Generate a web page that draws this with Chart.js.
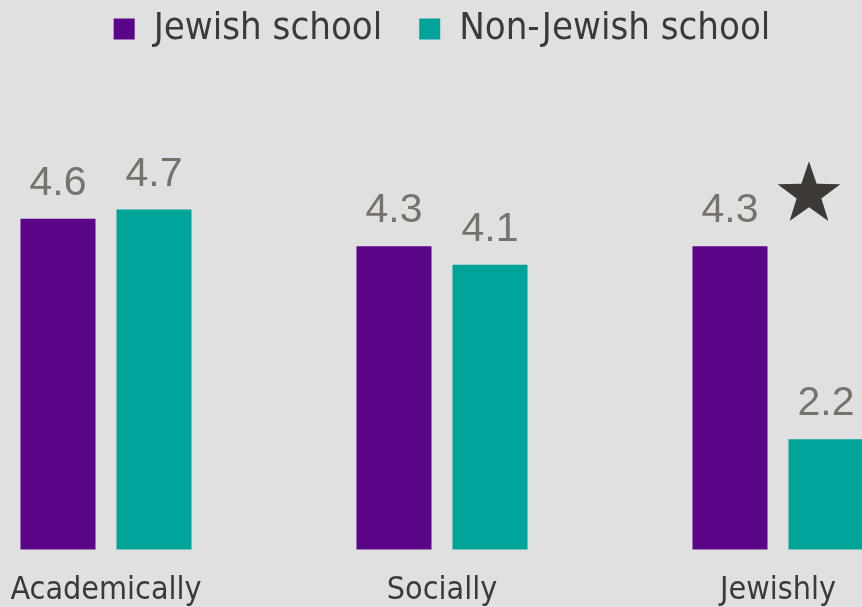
<!DOCTYPE html>
<html>
<head>
<meta charset="utf-8">
<script src="https://cdn.jsdelivr.net/npm/chart.js@4.4.1/dist/chart.umd.min.js"></script>
<style>
  html, body { margin: 0; padding: 0; background: #e0e0e0; }
  #wrap { position: relative; width: 862px; height: 607px; overflow: hidden; }
  #box { position: absolute; left: -62px; top: 0; width: 1008px; height: 607px; }
</style>
</head>
<body>
<div id="wrap"><div id="box"><canvas id="chart"></canvas></div></div>
<script>
const categories = ['Academically', 'Socially', 'Jewishly'];
const jewishSchool = [4.6, 4.3, 4.3];
const nonJewishSchool = [4.7, 4.1, 2.2];
const starredCategory = 2;

const NARROW = "'DejaVu Sans Condensed', 'Liberation Sans Narrow', sans-serif";

// value labels above each bar
const valueLabels = {
    id: 'valueLabels',
    afterDatasetsDraw(chart) {
        const ctx = chart.ctx;
        ctx.save();
        ctx.font = "41px 'Liberation Sans', Arial, sans-serif";
        ctx.fillStyle = '#77726b';
        ctx.textAlign = 'center';
        ctx.textBaseline = 'alphabetic';
        chart.data.datasets.forEach((ds, di) => {
            chart.getDatasetMeta(di).data.forEach((bar, i) => {
                ctx.fillText(ds.data[i].toFixed(1), bar.x, bar.y - 24);
            });
        });
        ctx.restore();
    }
};

// significance star next to the starred category
const starMark = {
    id: 'starMark',
    afterDatasetsDraw(chart) {
        const a = chart.getDatasetMeta(0).data[starredCategory];
        const b = chart.getDatasetMeta(1).data[starredCategory];
        const cx = b.x - 17, cy = a.y - 52, R = 33, r = 13;
        const ctx = chart.ctx;
        ctx.save();
        ctx.beginPath();
        for (let k = 0; k < 10; k++) {
            const ang = -Math.PI / 2 + k * Math.PI / 5;
            const rad = k % 2 ? r : R;
            const px = cx + rad * Math.cos(ang), py = cy + rad * Math.sin(ang);
            k ? ctx.lineTo(px, py) : ctx.moveTo(px, py);
        }
        ctx.closePath();
        ctx.fillStyle = '#3d3934';
        ctx.fill();
        ctx.restore();
    }
};

new Chart(document.getElementById('chart'), {
    type: 'bar',
    data: {
        labels: categories,
        datasets: [
            { label: 'Jewish school', data: jewishSchool, backgroundColor: '#5b0688' },
            { label: 'Non-Jewish school', data: nonJewishSchool, backgroundColor: '#00a499' }
        ]
    },
    options: {
        responsive: true,
        maintainAspectRatio: false,
        animation: false,
        datasets: { bar: { categoryPercentage: 0.5714, barPercentage: 0.78125 } },
        layout: { padding: { top: -27, bottom: -25, left: 0, right: 0 } },
        plugins: {
            legend: {
                display: true,
                position: 'top',
                labels: {
                    font: { family: NARROW, size: 38 },
                    color: '#3d3a35',
                    boxWidth: 21,
                    boxHeight: 21,
                    padding: 37
                }
            },
            tooltip: { enabled: false }
        },
        scales: {
            x: {
                grid: { display: false, drawTicks: false },
                border: { display: false },
                ticks: { font: { family: NARROW, size: 32 }, color: '#3d3a35', padding: 22 }
            },
            y: {
                display: false,
                min: 1,
                max: 6.35
            }
        }
    },
    plugins: [valueLabels, starMark]
});
</script>
</body>
</html>
